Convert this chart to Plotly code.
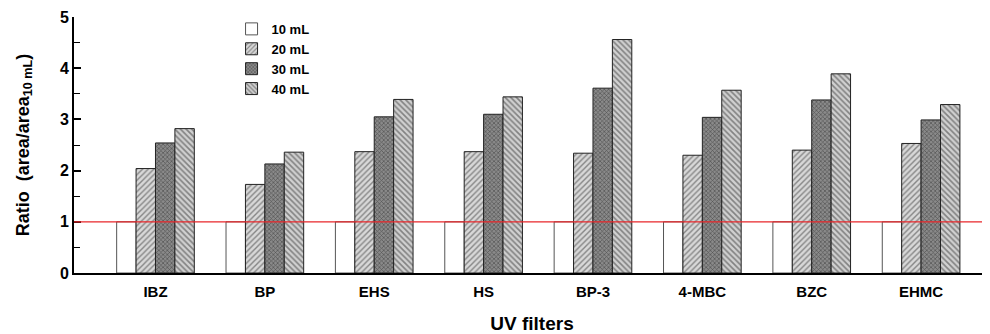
import plotly.graph_objects as go

categories = ["IBZ", "BP", "EHS", "HS", "BP-3", "4-MBC", "BZC", "EHMC"]
series_names = ["10 mL", "20 mL", "30 mL", "40 mL"]
v10 = [1, 1, 1, 1, 1, 1, 1, 1]
v20 = [2.04, 1.73, 2.37, 2.37, 2.34, 2.30, 2.40, 2.53]
v30 = [2.54, 2.13, 3.05, 3.10, 3.61, 3.04, 3.38, 2.99]
v40 = [2.82, 2.36, 3.39, 3.44, 4.56, 3.57, 3.89, 3.29]
y_ticks = [0, 1, 2, 3, 4, 5]

FONT = "Liberation Sans, Arial, sans-serif"

fig = go.Figure()
fig.add_trace(go.Bar(x=categories, y=v10, name=series_names[0],
                     marker=dict(color="white", line=dict(color="#555555", width=1))))
fig.add_trace(go.Bar(x=categories, y=v20, name=series_names[1],
                     marker=dict(color="#d8d8d8", line=dict(color="#222222", width=1),
                                 pattern=dict(shape="/", size=4, solidity=0.35,
                                              fgcolor="#333333", fillmode="overlay"))))
fig.add_trace(go.Bar(x=categories, y=v30, name=series_names[2],
                     marker=dict(color="#8a8a8a", line=dict(color="#222222", width=1),
                                 pattern=dict(shape="x", size=3, solidity=0.4,
                                              fgcolor="#1a1a1a", fillmode="overlay"))))
fig.add_trace(go.Bar(x=categories, y=v40, name=series_names[3],
                     marker=dict(color="#d0d0d0", line=dict(color="#222222", width=1),
                                 pattern=dict(shape="\\", size=4, solidity=0.4,
                                              fgcolor="#333333", fillmode="overlay"))))

fig.add_shape(type="line", xref="paper", x0=0, x1=1, yref="y", y0=1, y1=1,
              line=dict(color="#e8262a", width=1.3), layer="above")

fig.update_layout(
    width=982, height=326,
    margin=dict(l=66, r=0, t=9, b=61, autoexpand=False),
    paper_bgcolor="white", plot_bgcolor="white",
    barmode="group", bargap=0.29, bargroupgap=0,
    font=dict(family=FONT, size=15, color="black", weight="bold"),
    showlegend=True,
    legend=dict(x=0.172, y=1.012, xanchor="left", yanchor="top",
                bgcolor="rgba(0,0,0,0)", font=dict(size=13, weight="bold"),
                tracegroupgap=0, itemwidth=30, traceorder="normal"),
    xaxis=dict(type="category", range=[-0.745, 7.63], showline=True, linecolor="black",
               linewidth=2, ticks="", showgrid=False, zeroline=False, automargin=False,
               tickfont=dict(size=15, weight="bold"), ticklabelstandoff=4,
               title=dict(text="UV filters", font=dict(size=19, weight="bold"), standoff=18)),
    yaxis=dict(range=[0, 5], tickvals=y_ticks, showline=True, linecolor="black",
               linewidth=2, ticks="inside", ticklen=7, tickwidth=1.5, tickcolor="black",
               minor=dict(dtick=0.5, ticks="inside", ticklen=6, tickwidth=1, tickcolor="black"),
               showgrid=False, zeroline=False, automargin=False,
               tickfont=dict(size=16, weight="bold"),
               title=dict(text="Ratio  (area/area<sub>10 mL</sub>)",
                          font=dict(size=18, weight="bold"), standoff=26)),
)

fig.write_html("out.html")
